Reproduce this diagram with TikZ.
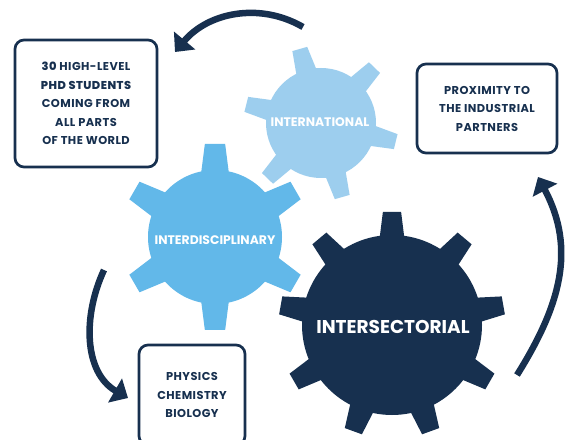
\documentclass[tikz,border=0pt]{standalone}
\usepackage{fontspec}
\setmainfont{Poppins}[UprightFont=* Bold, BoldFont=* ExtraBold]
\usepackage{tikz}
\usetikzlibrary{arrows.meta}

\definecolor{navy}{HTML}{17304F}
\definecolor{paleblue}{HTML}{9DCEEE}
\definecolor{midblue}{HTML}{62B8E9}

% colour, centre, teeth, first angle, body radius, outer radius, half width
\newcommand{\drawgear}[7]{%
  \begin{scope}[shift={#2}]
    \fill[#1] (0,0) circle (#5);
    \pgfmathsetmacro{\gstep}{360/#3}
    \foreach \k in {1,...,#3}{
      \fill[#1, rotate={#4+(\k-1)*\gstep}] (#5-8,-#7) -- (#6,-0.7*#7) -- (#6,0.7*#7) -- (#5-8,#7) -- cycle;
    }
  \end{scope}}

\tikzset{
  infobox/.style={draw=navy, line width=2.7pt, rounded corners=9pt, align=center,
    text=navy, font=\fontsize{11.4}{18.5}\selectfont\addfontfeature{LetterSpace=4}},
  gearlabel/.style={text=white, font=\fontsize{12.4}{15}\selectfont},
  bigarrow/.style={draw=navy, line width=6.5pt, -{Triangle[length=15pt,width=27pt]}}
}

\begin{document}
\begin{tikzpicture}[x=1pt, y=1pt]
        \useasboundingbox (0,0) rectangle (570,439);
        \fill[white] (0,0) rectangle (570,439);

        % gears
        \drawgear{paleblue}{(321,316)}{6}{106}{55}{77}{11}
        \drawgear{midblue}{(215,202)}{6}{90}{67}{93}{14.5}
        \drawgear{navy}{(392,114)}{9}{90}{90}{113}{13}
        \node [gearlabel] (intl) at (320,317) {INTERNATIONAL};
        \node [gearlabel] (disc) at (215,199) {INTERDISCIPLINARY};
        \node [gearlabel, font=\fontsize{18.5}{20}\selectfont] (sect) at (393,112) {INTERSECTORIAL};

        % boxes
        \node [infobox, minimum width=142, minimum height=127] (students) at (86,335.5)
            {{\bfseries 30} HIGH-LEVEL\\ {\bfseries PHD STUDENTS}\\ COMING FROM\\ ALL PARTS\\ OF THE WORLD};
        \node [infobox, minimum width=140, minimum height=89] (partners) at (487,330.5)
            {PROXIMITY TO\\ THE INDUSTRIAL\\ PARTNERS};
        \node [infobox, minimum width=106, minimum height=100] (fields) at (192,44)
            {PHYSICS\\ CHEMISTRY\\ BIOLOGY};

        % arrows
        \coordinate (topstart) at (303,412);
        \coordinate (topend) at (175,387);
        \coordinate (rightstart) at (517,64);
        \coordinate (rightend) at (538,262);
        \coordinate (leftstart) at (104,169);
        \coordinate (leftend) at (128,41);
        \draw [bigarrow] (topstart) to [out=150, in=50] (topend);
        \draw [bigarrow] (rightstart) to [out=58, in=-62, looseness=1.05] (rightend);
        \draw [bigarrow] (leftstart) to [out=245, in=150] (leftend);
    \end{tikzpicture}
\end{document}
